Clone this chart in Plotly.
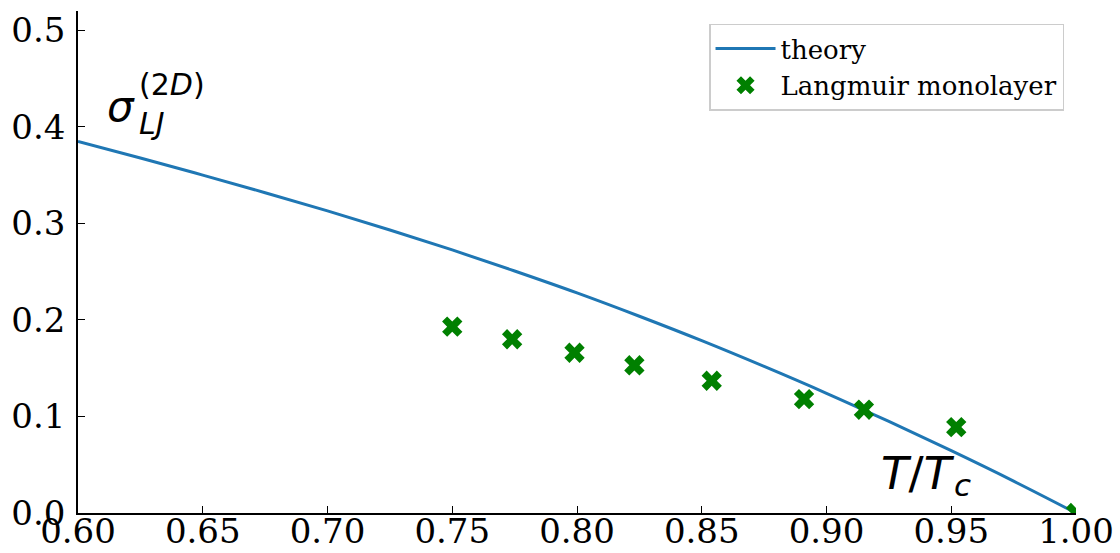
import plotly.graph_objects as go

# Reduced temperature and line tension: theory curve
theory_t = [0.600, 0.625, 0.650, 0.675, 0.700, 0.725, 0.750, 0.775, 0.800,
            0.825, 0.850, 0.875, 0.900, 0.925, 0.950, 0.975, 1.000]
theory_sigma = [0.385, 0.3678, 0.350, 0.3318, 0.313, 0.2932, 0.2725, 0.2507, 0.228,
                0.2038, 0.1785, 0.1518, 0.124, 0.0948, 0.0645, 0.0330, 0.000]

# Langmuir monolayer measurements
mono_t = [0.750, 0.774, 0.799, 0.823, 0.854, 0.891, 0.915, 0.952, 1.000]
mono_sigma = [0.193, 0.180, 0.166, 0.153, 0.137, 0.118, 0.107, 0.089, 0.000]

x_ticks = [0.60, 0.65, 0.70, 0.75, 0.80, 0.85, 0.90, 0.95, 1.00]
y_ticks = [0.0, 0.1, 0.2, 0.3, 0.4, 0.5]

fig = go.Figure()
fig.add_trace(go.Scatter(
    x=theory_t, y=theory_sigma, mode="lines", name="theory",
    line=dict(color="#1f77b4", width=3, shape="spline", smoothing=1.0),
))
fig.add_trace(go.Scatter(
    x=mono_t, y=mono_sigma, mode="markers", name="Langmuir monolayer",
    marker=dict(symbol="x", size=18, color="green", line=dict(width=0)),
))

axis_common = dict(
    showline=True, linecolor="black", linewidth=1.6, mirror=False,
    ticks="inside", ticklen=7, tickwidth=1.3, tickcolor="black",
    showgrid=False, zeroline=False, automargin=False,
    tickfont=dict(family="DejaVu Serif", size=34, color="black"),
)

fig.update_xaxes(range=[0.6, 1.0], tickvals=x_ticks,
                 ticktext=[f"{v:.2f}" for v in x_ticks], ticklabelstandoff=-13,
                 **axis_common)
fig.update_yaxes(range=[0, 0.52], tickvals=y_ticks,
                 ticktext=[f"{v:.1f}" for v in y_ticks], ticklabelstandoff=4,
                 **axis_common)

math_font = dict(family="DejaVu Sans", color="black")
annotations = [
    dict(x=0.6108, y=0.421, text="<i>σ</i>", xanchor="left", yanchor="middle",
         font=dict(size=42, **math_font)),
    dict(x=0.6236, y=0.424, text="(2<i>D</i>)<br><i>LJ</i>", xanchor="left",
         yanchor="middle", align="left",
         font=dict(size=30, **math_font)),
    dict(x=0.9212, y=0.041, text="<i>T</i>/<i>T</i>", xanchor="left", yanchor="middle",
         font=dict(size=45, **math_font)),
    dict(x=0.9504, y=0.029, text="<i>c</i>", xanchor="left", yanchor="middle",
         font=dict(size=31, **math_font)),
]
for a in annotations:
    a.update(xref="x", yref="y", showarrow=False)

fig.update_layout(
    width=1120, height=553,
    margin=dict(l=78, r=44, t=11, b=40),
    paper_bgcolor="white", plot_bgcolor="white",
    annotations=annotations,
    showlegend=True,
    legend=dict(
        x=0.988, y=0.975, xanchor="right", yanchor="top",
        bgcolor="white", bordercolor="#cccccc", borderwidth=1.5,
        font=dict(family="DejaVu Serif", size=26, color="black"),
        itemwidth=60,
    ),
)

fig.write_html("out.html")
